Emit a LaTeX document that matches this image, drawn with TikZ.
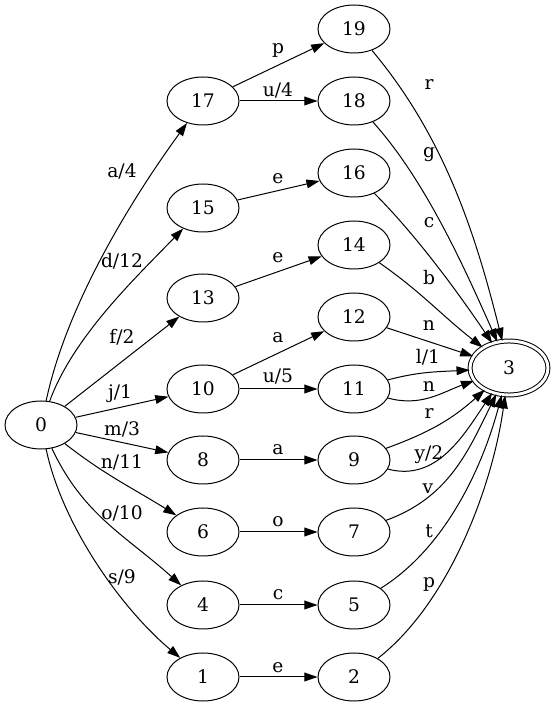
\documentclass[tikz,border=0pt]{standalone}
\usepackage{fontspec}
\setmainfont{DejaVu Serif}
\usetikzlibrary{arrows.meta,shapes.geometric}
\tikzset{>={Triangle[length=9.8pt,width=6.6pt]}}
\tikzstyle{state}=[ellipse,draw,line width=0.75pt,minimum width=54pt,minimum height=36pt,inner sep=0pt,font=\fontsize{14}{16}\selectfont]
\tikzstyle{final}=[state,double,double distance=2.2pt,minimum width=58.5pt,minimum height=40.5pt]
\tikzstyle{trans}=[->,line width=0.75pt]
\tikzstyle{lbl}=[inner sep=0pt,font=\fontsize{14}{16}\selectfont]

\begin{document}
\begin{tikzpicture}[x=0.75pt,y=0.75pt]
\useasboundingbox (0,0) rectangle (556,707);

% states
\node[state] (s0) at (41,282) {0};
\node[state] (s17) at (203,606) {17};
\node[state] (s15) at (203,499) {15};
\node[state] (s13) at (203,409) {13};
\node[state] (s10) at (203,318) {10};
\node[state] (s8) at (203,247) {8};
\node[state] (s6) at (203,175) {6};
\node[state] (s4) at (203,102) {4};
\node[state] (s1) at (203,30) {1};
\node[state] (s19) at (354,678) {19};
\node[state] (s18) at (354,606) {18};
\node[state] (s16) at (354,534) {16};
\node[state] (s14) at (354,462) {14};
\node[state] (s12) at (354,390) {12};
\node[state] (s11) at (354,318) {11};
\node[state] (s9) at (354,247) {9};
\node[state] (s7) at (354,175) {7};
\node[state] (s5) at (354,102) {5};
\node[state] (s2) at (354,30) {2};
\node[final] (s3) at (509,339) {3};

% from the start state
\draw[trans] (s0) to[out=78,in=234,looseness=0.8] (s17);
\draw[trans] (s0) to[out=70,in=226,looseness=0.8] (s15);
\draw[trans] (s0) -- (s13);
\draw[trans] (s0) -- (s10);
\draw[trans] (s0) -- (s8);
\draw[trans] (s0) to[out=-38,in=148] (s6);
\draw[trans] (s0) to[out=-65,in=138] (s4);
\draw[trans] (s0) to[out=-78,in=140,looseness=0.8] (s1);
\node[lbl] (la4) at (122,536) {a/4};
\node[lbl] (ld12) at (122,446) {d/12};
\node[lbl] (lf2) at (122,370) {f/2};
\node[lbl] (lj1) at (120,313) {j/1};
\node[lbl] (lm3) at (122,278) {m/3};
\node[lbl] (ln11) at (122,245) {n/11};
\node[lbl] (lo10) at (122,194) {o/10};
\node[lbl] (ls9) at (122,130) {s/9};

% middle column
\draw[trans] (s17) -- (s19);
\draw[trans] (s17) -- (s18);
\draw[trans] (s15) -- (s16);
\draw[trans] (s13) -- (s14);
\draw[trans] (s10) -- (s12);
\draw[trans] (s10) -- (s11);
\draw[trans] (s8) -- (s9);
\draw[trans] (s6) -- (s7);
\draw[trans] (s4) -- (s5);
\draw[trans] (s1) -- (s2);
\node[lbl] (lp) at (278,657) {p};
\node[lbl] (lu4) at (278,617) {u/4};
\node[lbl] (le16) at (278,528) {e};
\node[lbl] (le14) at (278,449) {e};
\node[lbl] (la12) at (278,369) {a};
\node[lbl] (lu5) at (278,330) {u/5};
\node[lbl] (la9) at (278,257) {a};
\node[lbl] (lo7) at (278,185) {o};
\node[lbl] (lc5) at (278,112) {c};
\node[lbl] (le2) at (278,39) {e};

% into the final state
\draw[trans] (s19) to[out=-50,in=104,looseness=0.9] (s3);
\draw[trans] (s18) to[out=-48,in=114,looseness=0.8] (s3);
\draw[trans] (s16) to[out=-45,in=124,looseness=0.8] (s3);
\draw[trans] (s14) to[out=-35,in=142] (s3);
\draw[trans] (s12) -- (s3);
\draw[trans] (s11) to[out=15,in=183] (s3);
\draw[trans] (s11) to[out=-15,in=200] (s3);
\draw[trans] (s9) to[out=20,in=222] (s3);
\draw[trans] (s9) to[out=-15,in=236] (s3);
\draw[trans] (s7) to[out=20,in=244] (s3);
\draw[trans] (s5) to[out=32,in=255,looseness=0.85] (s3);
\draw[trans] (s2) to[out=38,in=262,looseness=0.8] (s3);
\node[lbl] (lr19) at (429,622) {r};
\node[lbl] (lg) at (429,552) {g};
\node[lbl] (lc16) at (429,484) {c};
\node[lbl] (lb) at (429,429) {b};
\node[lbl] (ln12) at (429,381) {n};
\node[lbl] (ll1) at (428,350) {l/1};
\node[lbl] (ln11b) at (429,320) {n};
\node[lbl] (lr9) at (429,293) {r};
\node[lbl] (ly2) at (429,252) {y/2};
\node[lbl] (lv) at (428,218) {v};
\node[lbl] (lt) at (429,176) {t};
\node[lbl] (lp2) at (429,123) {p};

\end{tikzpicture}
\end{document}
